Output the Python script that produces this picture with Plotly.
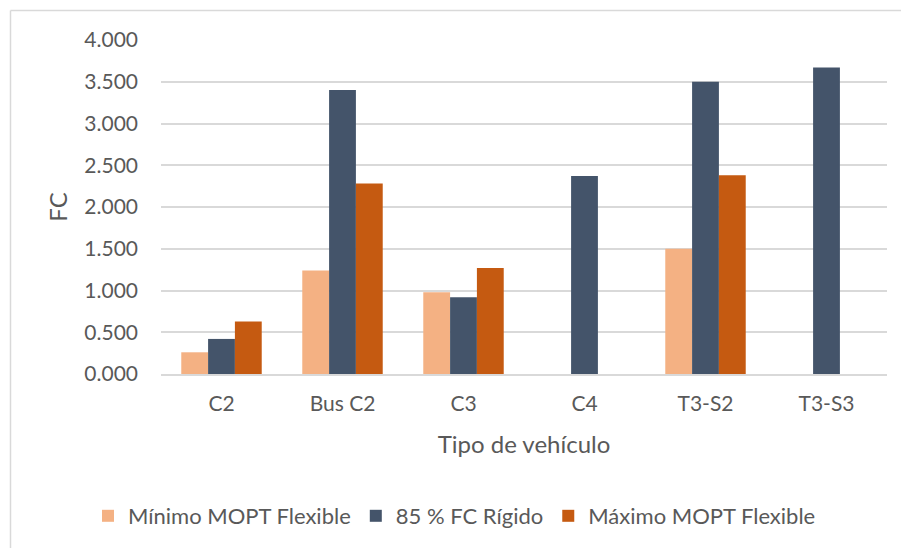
import plotly.graph_objects as go

# Vehicle categories and FC values per series (None = no value reported)
categorias = ["C2", "Bus C2", "C3", "C4", "T3-S2", "T3-S3"]
minimo_mopt_flexible = [0.26, 1.24, 0.98, None, 1.50, None]
fc_rigido_85 = [0.42, 3.40, 0.92, 2.37, 3.50, 3.67]
maximo_mopt_flexible = [0.63, 2.28, 1.27, None, 2.38, None]

y_ticks = [0, 0.5, 1.0, 1.5, 2.0, 2.5, 3.0, 3.5, 4.0]

W, H = 901, 548
ML, MR, MT, MB = 161, 14, 40, 173
FONT = "Lato"
TXT = "#595959"
GRID = "#D9D9D9"

fig = go.Figure()
series = [
    ("Mínimo MOPT Flexible", minimo_mopt_flexible, "#F4B183"),
    ("85 % FC Rígido", fc_rigido_85, "#44546A"),
    ("Máximo MOPT Flexible", maximo_mopt_flexible, "#C55A11"),
]
for name, vals, color in series:
    fig.add_trace(go.Bar(
        x=categorias, y=vals, name=name,
        marker=dict(color=color, line=dict(width=0)),
    ))

# Chart-area frame (left and top edges) in paper coordinates
pw = W - ML - MR
ph = H - MT - MB
def px_x(x):
    return (x - ML) / pw
def px_y(y):
    return (H - MB - y) / ph

fig.add_shape(type="line", xref="paper", yref="paper",
              x0=px_x(10.5), x1=px_x(10.5), y0=px_y(10.5), y1=px_y(H + 5),
              line=dict(color="#D9D9D9", width=1.5))
fig.add_shape(type="line", xref="paper", yref="paper",
              x0=px_x(10.5), x1=px_x(W + 5), y0=px_y(10.5), y1=px_y(10.5),
              line=dict(color="#D9D9D9", width=1.5))

fig.update_layout(
    width=W, height=H,
    margin=dict(l=ML, r=MR, t=MT, b=MB),
    paper_bgcolor="white", plot_bgcolor="white",
    barmode="group", bargap=0.335, bargroupgap=0,
    font=dict(family=FONT, color=TXT, size=21),
    showlegend=True,
    legend=dict(
        orientation="h", x=px_x(88), xanchor="left", y=px_y(516), yanchor="middle",
        font=dict(family=FONT, color=TXT, size=22),
        itemsizing="constant", tracegroupgap=0,
    ),
    xaxis=dict(
        title=dict(text="Tipo de vehículo", font=dict(size=24, color=TXT), standoff=22),
        showgrid=False, showline=True, linecolor=GRID, linewidth=1.5,
        ticks="", tickfont=dict(size=21, color=TXT), ticklabelstandoff=10,
    ),
    yaxis=dict(
        title=dict(text="FC", font=dict(size=24, color=TXT), standoff=9),
        range=[0, 4.0], tickvals=y_ticks, tickformat=".3f",
        showgrid=True, gridcolor=GRID, gridwidth=1.5,
        zeroline=False, showline=False, ticks="",
        tickfont=dict(size=21, color=TXT), ticklabelstandoff=22,
    ),
)

fig.write_html("out.html")
